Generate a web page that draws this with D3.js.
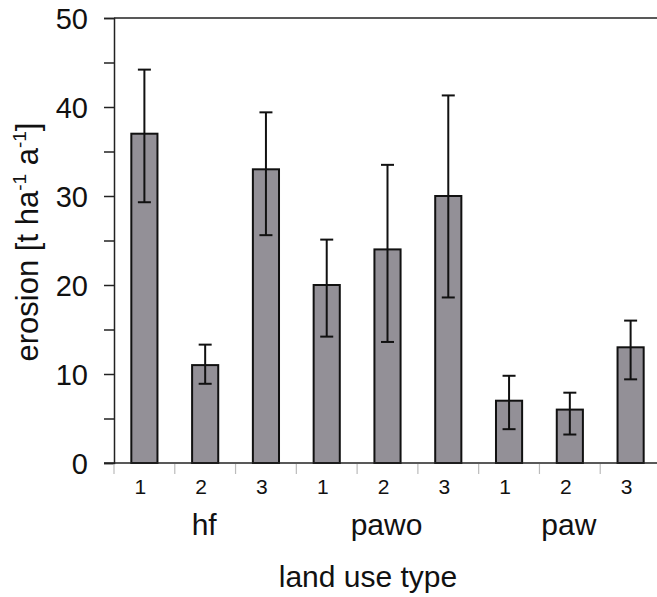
<!DOCTYPE html>
<html><head><meta charset="utf-8">
<script src="https://cdn.jsdelivr.net/npm/d3@7"></script>
<style>body{margin:0;background:#fff}svg{display:block}text{font-family:"Liberation Sans",Arial,sans-serif;fill:#111}</style>
</head><body><svg id="c" width="657" height="597"></svg>
<script>
const groups = ["hf","pawo","paw"];
const subs = ["1","2","3"];
const categories = ["hf-1","hf-2","hf-3","pawo-1","pawo-2","pawo-3","paw-1","paw-2","paw-3"];
const values = [37, 11, 33, 20, 24, 30, 7, 6, 13];
const errHigh = [44.2, 13.3, 39.4, 25.1, 33.5, 41.3, 9.8, 7.9, 16.0];
const errLow  = [29.3, 8.9, 25.6, 14.2, 13.6, 18.6, 3.8, 3.2, 9.4];
const yTicks = [0,5,10,15,20,25,30,35,40,45,50];
const yLabels = [0,10,20,30,40,50];

const svg = d3.select("#c");
const x = d3.scaleBand().domain(categories).range([114, 661]).padding(0);
const y = d3.scaleLinear().domain([0,50]).range([463, 18]);
const bw = x.bandwidth()*0.43;

// top border
svg.append("line").attr("x1",114).attr("x2",657).attr("y1",y(50)).attr("y2",y(50)).attr("stroke","#222").attr("stroke-width",1.5);

// y axis
const yAxis = d3.axisLeft(y).tickValues(yTicks).tickSize(10).tickFormat(d => yLabels.includes(d) ? d : "");
const ya = svg.append("g").attr("transform","translate(114,0)").call(yAxis);
ya.select(".domain").attr("stroke","#222").attr("stroke-width",1.5);
ya.selectAll(".tick line").attr("stroke","#222").attr("stroke-width",1.5);
ya.selectAll(".tick text").attr("font-size",29).attr("x",-26).attr("dy","0.36em").style("font-family","Liberation Sans, Arial, sans-serif").attr("fill","#111");

// bars
svg.append("g").selectAll("rect").data(categories).join("rect")
  .attr("x", d => x(d) + (x.bandwidth()-bw)/2)
  .attr("width", bw)
  .attr("y", (d,i) => y(values[i]))
  .attr("height", (d,i) => y(0)-y(values[i]))
  .attr("fill","#939097").attr("stroke","#111").attr("stroke-width",2);

// baseline
svg.append("line").attr("x1",104).attr("x2",657).attr("y1",y(0)).attr("y2",y(0)).attr("stroke","#222").attr("stroke-width",1.5);

// x category separator ticks
const sep = categories.map(c => x(c)).concat([x.range()[1]]);
svg.append("g").selectAll("line").data(sep).join("line")
  .attr("x1", d=>d).attr("x2", d=>d).attr("y1", y(0)+1).attr("y2", y(0)+11)
  .attr("stroke","#bbb").attr("stroke-width",1.2);

// error bars
const eb = svg.append("g").attr("stroke","#111").attr("stroke-width",2);
categories.forEach((c,i) => {
  const cx = x(c) + x.bandwidth()/2;
  eb.append("line").attr("x1",cx).attr("x2",cx).attr("y1",y(errHigh[i])).attr("y2",y(errLow[i]));
  eb.append("line").attr("x1",cx-6.5).attr("x2",cx+6.5).attr("y1",y(errHigh[i])).attr("y2",y(errHigh[i]));
  eb.append("line").attr("x1",cx-6.5).attr("x2",cx+6.5).attr("y1",y(errLow[i])).attr("y2",y(errLow[i]));
});

// x tick labels
svg.append("g").selectAll("text").data(categories).join("text")
  .attr("x", d => x(d) + x.bandwidth()/2 - 4)
  .attr("y", 494).attr("text-anchor","middle").attr("font-size",21)
  .text((d,i) => subs[i%3]);

// group labels
svg.append("g").selectAll("text").data(groups).join("text")
  .attr("x", (g,i) => x(categories[i*3+1]) + x.bandwidth()/2 - 1)
  .attr("y", 535).attr("text-anchor","middle").attr("font-size",30)
  .text(d => d);

// axis titles
svg.append("text").attr("x",368).attr("y",587).attr("text-anchor","middle").attr("font-size",30).text("land use type");
const yt = svg.append("text").attr("transform","translate(38,242) rotate(-90)").attr("text-anchor","middle").attr("font-size",31);
yt.append("tspan").text("erosion [t ha");
yt.append("tspan").attr("font-size",19).attr("dy",-12).text("-1");
yt.append("tspan").attr("dy",12).text(" a");
yt.append("tspan").attr("font-size",19).attr("dy",-12).text("-1");
yt.append("tspan").attr("dy",12).text("]");
</script></body></html>
